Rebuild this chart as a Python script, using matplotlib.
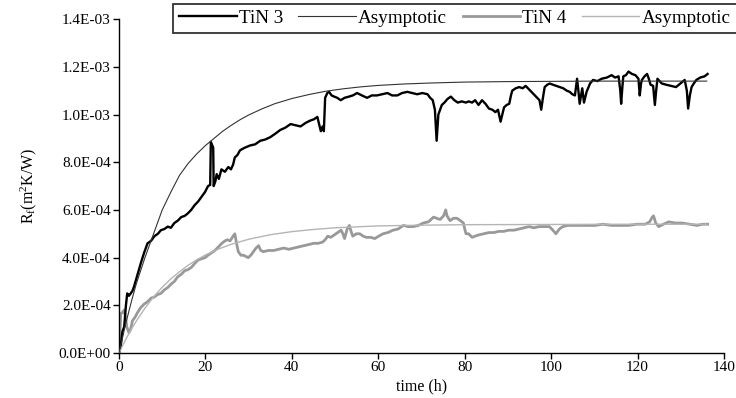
import matplotlib
matplotlib.use("Agg")
import matplotlib.pyplot as plt
import numpy as np
from matplotlib.ticker import FuncFormatter

plt.rcParams['font.family'] = ['Liberation Serif', 'DejaVu Serif']
plt.rcParams['mathtext.fontset'] = 'custom'
plt.rcParams['mathtext.rm'] = 'Liberation Serif'

# ---- data (R in units of 1e-3 m2K/W) ----
tin3_t = [0.0, 0.4, 0.8, 1.2, 1.6, 1.9, 2.3, 2.7, 3.1, 3.5, 4.3, 5.1, 5.8, 6.6, 7.4, 8.2, 9.0, 9.7,
          10.5, 11.3, 12.0, 12.8, 13.6, 14.4, 15.2, 15.9, 16.7, 17.5, 18.3, 19.1, 19.9, 20.6, 21.1,
          21.25, 21.6, 21.8, 21.9, 22.3, 22.6, 23.1, 23.7, 24.5, 25.3, 25.9, 26.4, 26.8, 27.4, 28.0,
          29.0, 30.3, 31.5, 32.7, 33.8, 35.0, 36.2, 37.3, 38.5, 39.7, 40.8, 42.0, 43.2, 44.3, 45.1,
          45.9, 46.3, 46.7, 47.1, 47.4, 47.7, 48.2, 48.6, 49.2, 49.8, 50.5, 51.3, 52.2, 53.2, 54.1,
          55.1, 56.2, 57.4, 58.5, 59.7, 60.9, 62.1, 63.2, 64.4, 65.5, 66.7, 67.9, 69.0, 70.2, 71.4,
          72.0, 72.6, 73.1, 73.5, 73.9, 74.1, 74.7, 75.3, 76.0, 76.8, 77.6, 78.4, 79.3, 80.3, 80.9,
          81.7, 82.4, 83.2, 84.0, 84.8, 85.6, 86.4, 87.1, 87.7, 88.3, 88.7, 89.1, 89.7, 90.3, 90.7,
          91.0, 91.8, 92.6, 93.4, 94.1, 94.9, 95.7, 96.5, 97.3, 97.7, 98.1, 98.5, 99.1, 99.7, 100.4,
          101.2, 102.0, 102.8, 103.6, 104.3, 104.9, 105.5, 106.0, 106.3, 106.6, 107.2, 107.6, 108.2,
          109.0, 109.7, 110.7, 111.7, 112.9, 114.0, 114.8, 115.6, 116.0, 116.2, 116.5, 116.7, 117.3,
          117.9, 118.7, 119.5, 120.2, 120.5, 120.8, 121.0, 121.6, 122.2, 122.6, 123.0, 123.6, 124.0,
          124.3, 124.6, 125.6, 126.6, 127.7, 128.9, 129.9, 130.9, 131.4, 131.7, 132.1, 132.5, 133.0,
          133.6, 134.5, 135.5, 136.2]
tin3_r = [0.00, 0.03, 0.09, 0.11, 0.20, 0.25, 0.24, 0.25, 0.26, 0.28, 0.33, 0.38, 0.42, 0.46, 0.47,
          0.49, 0.50, 0.515, 0.52, 0.53, 0.525, 0.545, 0.555, 0.57, 0.575, 0.585, 0.60, 0.62, 0.635,
          0.655, 0.675, 0.70, 0.705, 0.885, 0.87, 0.86, 0.70, 0.72, 0.75, 0.73, 0.77, 0.76, 0.78,
          0.77, 0.79, 0.82, 0.83, 0.85, 0.86, 0.87, 0.875, 0.89, 0.895, 0.905, 0.92, 0.935, 0.945,
          0.96, 0.955, 0.95, 0.965, 0.975, 0.98, 0.99, 0.96, 0.93, 0.95, 0.93, 1.07, 1.09, 1.095,
          1.08, 1.075, 1.07, 1.06, 1.07, 1.075, 1.08, 1.09, 1.08, 1.07, 1.08, 1.08, 1.085, 1.09, 1.08,
          1.08, 1.09, 1.095, 1.09, 1.085, 1.09, 1.085, 1.07, 1.06, 1.02, 0.89, 1.00, 1.01, 1.04, 1.05,
          1.065, 1.075, 1.06, 1.05, 1.055, 1.05, 1.055, 1.05, 1.06, 1.04, 1.06, 1.045, 1.025, 1.02,
          1.01, 1.02, 0.97, 1.00, 1.03, 1.04, 1.045, 1.08, 1.10, 1.11, 1.115, 1.11, 1.12, 1.105, 1.09,
          1.075, 1.06, 1.02, 1.07, 1.115, 1.125, 1.13, 1.125, 1.12, 1.115, 1.11, 1.10, 1.095, 1.085,
          1.08, 1.15, 1.10, 1.045, 1.11, 1.05, 1.095, 1.13, 1.145, 1.14, 1.15, 1.155, 1.165, 1.155,
          1.16, 1.10, 1.045, 1.12, 1.16, 1.165, 1.18, 1.17, 1.165, 1.15, 1.08, 1.13, 1.145, 1.16,
          1.17, 1.15, 1.125, 1.12, 1.04, 1.10, 1.15, 1.13, 1.125, 1.12, 1.115, 1.13, 1.145, 1.10,
          1.025, 1.08, 1.115, 1.13, 1.145, 1.155, 1.16, 1.17]

asym3_t = [0, 1, 2, 3, 4, 6, 8, 10, 12, 14, 16, 18, 20, 22, 24, 26, 28, 30, 33, 36, 40, 44, 48,
           52, 56, 60, 66, 72, 80, 90, 100, 110, 120, 136]
asym3_r = [0.0, 0.08, 0.155, 0.225, 0.29, 0.40, 0.50, 0.60, 0.675, 0.745, 0.795, 0.835, 0.87,
           0.90, 0.93, 0.955, 0.978, 0.998, 1.023, 1.045, 1.067, 1.084, 1.098, 1.108, 1.116, 1.122,
           1.128, 1.132, 1.136, 1.138, 1.139, 1.14, 1.14, 1.14]

tin4_t = [0.0, 0.2, 0.4, 0.8, 1.2, 1.5, 1.8, 2.3, 2.7, 3.1, 3.7, 4.3, 5.0, 5.8, 6.6, 7.4, 8.2, 8.9,
          9.7, 10.5, 11.3, 12.1, 12.8, 13.6, 14.4, 15.2, 16.0, 16.8, 17.5, 18.3, 19.1, 19.9, 20.6,
          21.4, 22.2, 23.0, 23.8, 24.5, 25.1, 25.7, 26.4, 26.8, 27.2, 27.6, 28.2, 28.8, 29.9, 30.5,
          31.1, 31.7, 32.3, 32.8, 33.4, 34.6, 35.8, 37.0, 38.1, 39.3, 40.4, 41.6, 42.8, 43.9, 45.1,
          46.1, 47.1, 47.7, 48.3, 49.0, 49.8, 50.6, 51.4, 51.8, 52.2, 52.8, 53.3, 53.7, 54.1, 54.9,
          55.7, 56.5, 57.2, 58.2, 59.2, 60.1, 61.1, 62.2, 63.4, 64.6, 65.8, 66.9, 68.1, 69.3, 70.4,
          71.6, 72.8, 73.5, 74.3, 75.1, 75.6, 75.9, 76.6, 77.4, 78.2, 79.0, 79.7, 80.0, 80.3, 80.9,
          81.7, 82.4, 83.2, 84.4, 85.6, 86.7, 87.9, 89.0, 90.2, 91.4, 92.6, 93.7, 94.9, 96.0, 97.2,
          98.4, 99.6, 100.4, 101.1, 101.9, 102.7, 103.8, 105.0, 106.1, 107.2, 108.6, 110.1, 112.0,
          114.0, 116.0, 117.9, 119.8, 121.8, 122.8, 123.4, 123.7, 124.2, 124.9, 126.0, 127.2, 128.7,
          130.3, 132.0, 133.8, 135.0, 136.2]
tin4_r = [0.02, 0.07, 0.165, 0.17, 0.18, 0.15, 0.11, 0.085, 0.10, 0.135, 0.15, 0.17, 0.19, 0.205,
          0.215, 0.23, 0.235, 0.245, 0.25, 0.265, 0.275, 0.29, 0.30, 0.32, 0.33, 0.345, 0.35, 0.36,
          0.375, 0.39, 0.395, 0.40, 0.41, 0.42, 0.43, 0.445, 0.46, 0.47, 0.475, 0.47, 0.49, 0.50,
          0.46, 0.425, 0.41, 0.41, 0.40, 0.41, 0.425, 0.44, 0.45, 0.43, 0.425, 0.43, 0.43, 0.435,
          0.44, 0.435, 0.44, 0.445, 0.45, 0.455, 0.46, 0.46, 0.465, 0.475, 0.49, 0.485, 0.495, 0.505,
          0.515, 0.50, 0.48, 0.52, 0.535, 0.51, 0.49, 0.50, 0.50, 0.49, 0.485, 0.485, 0.48, 0.49,
          0.50, 0.505, 0.515, 0.52, 0.535, 0.53, 0.53, 0.535, 0.545, 0.55, 0.57, 0.565, 0.56, 0.575,
          0.60, 0.575, 0.555, 0.565, 0.565, 0.555, 0.545, 0.52, 0.50, 0.50, 0.485, 0.49, 0.495, 0.50,
          0.505, 0.505, 0.51, 0.51, 0.515, 0.515, 0.52, 0.525, 0.53, 0.525, 0.53, 0.53, 0.53, 0.515,
          0.50, 0.52, 0.53, 0.535, 0.535, 0.535, 0.535, 0.535, 0.535, 0.54, 0.535, 0.535, 0.535,
          0.54, 0.54, 0.55, 0.57, 0.575, 0.545, 0.53, 0.54, 0.55, 0.545, 0.545, 0.54, 0.535, 0.54, 0.54]

asym4_t = [0, 1, 2, 3, 4, 6, 8, 10, 12, 14, 16, 18, 20, 23, 26, 30, 35, 40, 45, 50, 60, 70, 80,
           100, 120, 136]
asym4_r = [0.0, 0.037, 0.072, 0.104, 0.134, 0.188, 0.235, 0.276, 0.311, 0.341, 0.368, 0.391,
           0.411, 0.436, 0.456, 0.477, 0.496, 0.509, 0.518, 0.525, 0.533, 0.536, 0.538, 0.539,
           0.54, 0.54]

scale = 1e-3
x_ticks = [0, 20, 40, 60, 80, 100, 120, 140]
y_ticks = [0.0, 2e-4, 4e-4, 6e-4, 8e-4, 1.0e-3, 1.2e-3, 1.4e-3]
legend_labels = ['TiN 3', 'Asymptotic', 'TiN 4', 'Asymptotic']

fig = plt.figure(figsize=(7.36, 3.98), dpi=100)
ax = fig.add_axes([0.1617, 0.113, 0.822, 0.839])

l1, = ax.plot(tin3_t, np.array(tin3_r) * scale, color='black', lw=1.7, label=legend_labels[0], zorder=3)
l2, = ax.plot(asym3_t, np.array(asym3_r) * scale, color='#333333', lw=0.8, label=legend_labels[1], zorder=4)
l3, = ax.plot(tin4_t, np.array(tin4_r) * scale, color='#999999', lw=2.0, label=legend_labels[2], zorder=2)
l4, = ax.plot(asym4_t, np.array(asym4_r) * scale, color='#b5b5b5', lw=1.0, label=legend_labels[3], zorder=3)

ax.set_xlim(0, 140)
ax.set_ylim(0, 1.4e-3)
ax.set_xticks(x_ticks)
ax.set_yticks(y_ticks)
ax.yaxis.set_major_formatter(FuncFormatter(lambda v, pos: "%.1E" % v))

for s in ['top', 'right']:
    ax.spines[s].set_visible(False)
for s in ['left', 'bottom']:
    ax.spines[s].set_linewidth(1.0)
ax.tick_params(direction='out', length=4, width=1.0, labelsize=11, pad=2)

ax.set_xlabel('time (h)', fontsize=11.5, labelpad=3)
ax.set_ylabel(r'$\mathregular{R_f(m^2K/W)}$', fontsize=11.5, labelpad=14)

leg = fig.legend(handles=[l1, l2, l3, l4], loc='upper left', bbox_to_anchor=(0.2355, 0.99),
                 ncol=4, prop={'family': 'Liberation Serif', 'size': 13.8}, frameon=True,
                 fancybox=False, handlelength=3.0, handletextpad=0.12, columnspacing=0.8,
                 borderpad=0.3, borderaxespad=0)
leg.get_frame().set_edgecolor('black')
leg.get_frame().set_linewidth(1.3)

fig.savefig('out.png', dpi=100)
